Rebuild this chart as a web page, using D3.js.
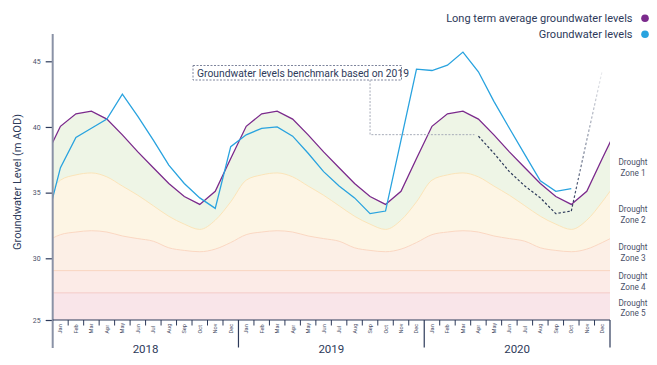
<!DOCTYPE html>
<html><head><meta charset="utf-8">
<script src="https://cdn.jsdelivr.net/npm/d3@7"></script>
<style>
html,body{margin:0;padding:0;background:#fff;}
svg{display:block;font-family:Roboto,"Noto Sans",sans-serif;}
</style></head>
<body><svg id="c" width="657" height="365"></svg>
<script>
// ---------- data ----------
const months = ["Jan","Feb","Mar","Apr","May","Jun","Jul","Aug","Sep","Oct","Nov","Dec"];
const years = ["2018","2019","2020"];
const yTicks = [25,30,35,40,45];
// long term average (monthly profile, repeated every year)
const ltaMonthly = [40.05,41.0,41.2,40.6,39.4,38.1,36.9,35.7,34.7,34.1,35.1,37.6];
// drought zone upper boundaries
const zone2Monthly = [35.95,36.35,36.5,36.2,35.5,34.8,34.0,33.2,32.6,32.2,32.9,34.3];
const zone3Monthly = [31.8,32.0,32.1,32.0,31.7,31.5,31.3,30.8,30.6,30.5,30.7,31.2];
const zone4Top = 29.0;
const zone5Top = 27.2;
const zoneLabels = ["Drought Zone 1","Drought Zone 2","Drought Zone 3","Drought Zone 4","Drought Zone 5"];
const zoneLabelValues = [36.84,33.3,30.37,28.08,25.93];
// groundwater levels: Dec 2017 followed by Jan 2018 .. Oct 2020
const groundwater = [32.3,
  36.9,39.2,39.9,40.6,42.5,40.8,39.0,37.1,35.7,34.6,33.8,38.5,
  39.4,39.9,40.0,39.3,38.0,36.6,35.5,34.6,33.4,33.6,39.0,44.4,
  44.3,44.7,45.7,44.2,41.95,39.9,37.9,35.9,35.1,35.3];
// benchmark (based on 2019): Apr 2020 .. Dec 2020
const benchmarkStart = 27;
const benchmark = [39.3,38.0,36.6,35.5,34.6,33.4,33.6,39.0,44.3];
const benchmarkText = "Groundwater levels benchmark based on 2019";
const legendItems = [{name:"Long term average groundwater levels", color:"#7b2a8c"},
                     {name:"Groundwater levels", color:"#29a3df"}];

// ---------- scales ----------
const svg = d3.select("#c");
const pLeft = 52.7, pRight = 610, pTop = 34, pBottom = 320;
const x = d3.scaleLinear().domain([0,36]).range([pLeft,pRight]);
const y = d3.scaleLinear().domain([25,30,45]).range([pBottom,258.3,61.3]);

// periodic series from month -1 (Dec 2017) to 36 (Jan 2021)
const periodic = arr => d3.range(-1,37).map(m => ({m, v: arr[((m%12)+12)%12]}));
const lta = periodic(ltaMonthly), z2 = periodic(zone2Monthly), z3 = periodic(zone3Monthly);

const defs = svg.append("defs");
defs.append("clipPath").attr("id","plot").append("rect")
  .attr("x",pLeft).attr("y",pTop).attr("width",pRight-pLeft).attr("height",pBottom-pTop);

const g = svg.append("g").attr("clip-path","url(#plot)");
const cx = d => x(d.m+0.5);

// zone fills (layered)
g.append("path").datum(lta).attr("fill","#eef5e6")
  .attr("d", d3.area().x(cx).y0(y(25)).y1(d=>y(d.v)));
g.append("path").datum(z2).attr("fill","#fdf5e4")
  .attr("d", d3.area().curve(d3.curveMonotoneX).x(cx).y0(y(25)).y1(d=>y(d.v)));
g.append("path").datum(z3).attr("fill","#fcefe6")
  .attr("d", d3.area().curve(d3.curveMonotoneX).x(cx).y0(y(25)).y1(d=>y(d.v)));
g.append("rect").attr("x",pLeft).attr("width",pRight-pLeft)
  .attr("y",y(zone4Top)).attr("height",y(zone5Top)-y(zone4Top)).attr("fill","#fcebe7");
g.append("rect").attr("x",pLeft).attr("width",pRight-pLeft)
  .attr("y",y(zone5Top)).attr("height",y(25)-y(zone5Top)).attr("fill","#f9e5e9");
// boundary lines
g.append("path").datum(z2).attr("fill","none").attr("stroke","#fbe4b9").attr("stroke-width",1)
  .attr("d", d3.line().curve(d3.curveMonotoneX).x(cx).y(d=>y(d.v)));
g.append("path").datum(z3).attr("fill","none").attr("stroke","#fad7c2").attr("stroke-width",1)
  .attr("d", d3.line().curve(d3.curveMonotoneX).x(cx).y(d=>y(d.v)));
[zone4Top, zone5Top].forEach((v,i)=>{
  g.append("line").attr("x1",pLeft).attr("x2",pRight).attr("y1",y(v)).attr("y2",y(v))
   .attr("stroke", i===0 ? "#f9d5c1" : "#f4cbc8").attr("stroke-width",1);
});

// long term average line
g.append("path").datum(lta).attr("fill","none").attr("stroke",legendItems[0].color)
  .attr("stroke-width",1.3).attr("d", d3.line().x(cx).y(d=>y(d.v)));
// groundwater line
const gw = groundwater.map((v,i)=>({m:i-1, v}));
g.append("path").datum(gw).attr("fill","none").attr("stroke",legendItems[1].color)
  .attr("stroke-width",1.3).attr("d", d3.line().x(cx).y(d=>y(d.v)));

// benchmark dashed line
const bm = benchmark.map((v,i)=>({m:benchmarkStart+i, v}));
const splitIdx = 6; // Oct 2020
const grad = defs.append("linearGradient").attr("id","fade").attr("gradientUnits","userSpaceOnUse")
  .attr("x1",0).attr("x2",0).attr("y1",y(bm[splitIdx].v)).attr("y2",y(bm[bm.length-1].v));
grad.append("stop").attr("offset",0).attr("stop-color","#2d3a5a").attr("stop-opacity",1);
grad.append("stop").attr("offset",1).attr("stop-color","#2d3a5a").attr("stop-opacity",0.08);
const bl = d3.line().x(cx).y(d=>y(d.v));
g.append("path").datum(bm.slice(0,splitIdx+1)).attr("fill","none").attr("stroke","#2d3a5a")
  .attr("stroke-width",1.2).attr("stroke-dasharray","2.5,2").attr("d", bl);
g.append("path").datum(bm.slice(splitIdx)).attr("fill","none").attr("stroke","url(#fade)")
  .attr("stroke-width",1.2).attr("stroke-dasharray","2.5,2").attr("d", bl);

// annotation box + connector
const ann = svg.append("g");
ann.append("text").attr("x",197).attr("y",76.5).attr("font-size",10.3)
  .attr("fill","#2d3a5a").text(benchmarkText);
ann.append("rect").attr("x",193).attr("y",65.5).attr("width",208.5).attr("height",14.5)
  .attr("fill","none").attr("stroke","#6f7791").attr("stroke-width",0.9).attr("stroke-dasharray","2,1.5");
const connX = x(20.5), connY = y(benchmark[0]) - 1.5;
ann.append("path").attr("fill","none").attr("stroke","#a6abb8").attr("stroke-width",1)
  .attr("stroke-dasharray","2,1.5")
  .attr("d", `M${connX},80 V${connY} H${x(benchmarkStart+0.5)-4}`);

// ---------- axes ----------
const yAxis = svg.append("g").attr("transform",`translate(${pLeft},0)`)
  .call(d3.axisLeft(y).tickValues(yTicks).tickSize(7).tickPadding(5));
yAxis.select(".domain").remove();
yAxis.selectAll(".tick line").attr("stroke","#2d3a5a").attr("stroke-width",1.2);
yAxis.selectAll(".tick text").attr("font-size",7).attr("fill","#4a5068").attr("font-family","Roboto");
svg.append("line").attr("x1",pLeft).attr("x2",pLeft).attr("y1",pTop).attr("y2",348)
  .attr("stroke","#8a92a6").attr("stroke-width",2);
svg.append("text").attr("transform",`translate(20.5,${(pTop+pBottom)/2+5}) rotate(-90)`)
  .attr("text-anchor","middle").attr("font-size",11).attr("fill","#2d3a5a")
  .text("Groundwater Level (m AOD)");

const monthIdx = d3.range(0,36);
const xa = svg.append("g");
xa.append("line").attr("x1",pLeft).attr("x2",pRight).attr("y1",pBottom).attr("y2",pBottom)
  .attr("stroke","#2d3a5a").attr("stroke-width",1.2);
xa.selectAll(".mt").data(d3.range(1,36).filter(i=>i%12!==0)).join("line")
  .attr("x1",d=>x(d)).attr("x2",d=>x(d)).attr("y1",pBottom).attr("y2",pBottom+5.5)
  .attr("stroke","#2d3a5a").attr("stroke-width",1);
xa.selectAll(".yt").data([12,24,36]).join("line")
  .attr("x1",d=>x(d)).attr("x2",d=>x(d)).attr("y1",pBottom).attr("y2",347.5)
  .attr("stroke","#2d3a5a").attr("stroke-width",1.2);
xa.selectAll(".ml").data(monthIdx).join("text")
  .attr("transform",d=>`translate(${x(d+0.5)+2},333.5) rotate(-90)`)
  .attr("font-size",5.6).attr("fill","#4a5068").attr("text-anchor","start")
  .text(d=>months[d%12]);
xa.selectAll(".yl").data(years).join("text")
  .attr("x",(d,i)=>x(i*12+6)).attr("y",352.5).attr("text-anchor","middle")
  .attr("font-size",11.5).attr("fill","#2d3a5a").text(d=>d);

// zone labels
const zl = svg.append("g");
zoneLabels.forEach((t,i)=>{
  const parts = [t.slice(0,7), t.slice(8)];
  const ty = y(zoneLabelValues[i]);
  zl.append("text").attr("x",633).attr("y",ty-3).attr("text-anchor","middle")
    .attr("font-size",8.2).attr("fill","#4a5068").text(parts[0]);
  zl.append("text").attr("x",633).attr("y",ty+7.8).attr("text-anchor","middle")
    .attr("font-size",8.2).attr("fill","#4a5068").text(parts[1]);
});

// legend
const lg = svg.append("g");
legendItems.forEach((it,i)=>{
  const ly = 18.3 + i*16;
  lg.append("text").attr("x",632.5).attr("y",ly+3.8).attr("text-anchor","end")
    .attr("font-size",11).attr("fill","#2d3a5a").text(it.name);
  lg.append("circle").attr("cx",645).attr("cy",ly).attr("r",3.8).attr("fill",it.color);
});
</script></body></html>
